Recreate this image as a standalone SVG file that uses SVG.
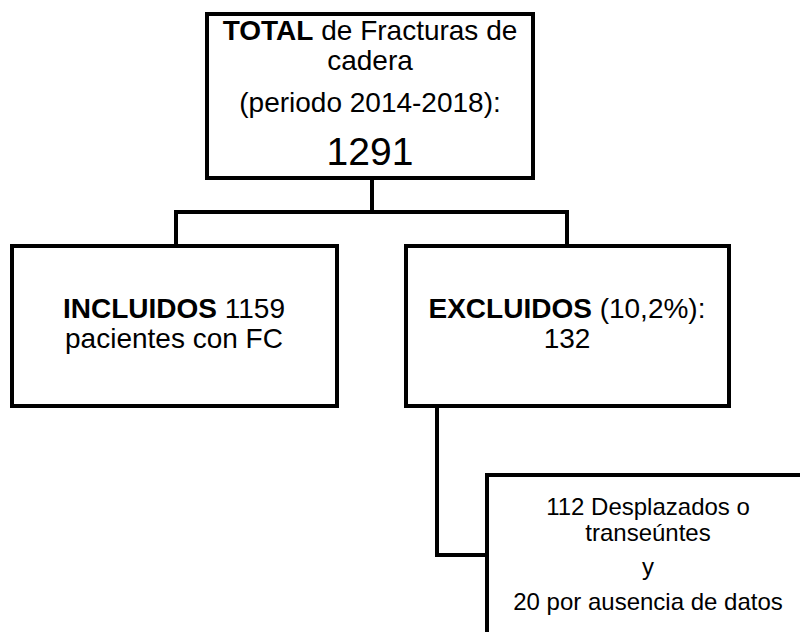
<svg xmlns="http://www.w3.org/2000/svg" width="800" height="632" viewBox="0 0 800 632">
<style>
.box{fill:#fff;stroke:#000;stroke-width:4}
.ln{fill:none;stroke:#000;stroke-width:4}
text{font-family:"Liberation Sans",Arial,sans-serif;fill:#000;text-anchor:middle}
.b{font-weight:bold}
</style>
<rect width="800" height="632" fill="#fff"/>
<g id="connectors">
<path class="ln" d="M372 178 V212 M176 212 H567 M176 210 V247 M567 210 V247"/>
<path class="ln" d="M437 405 V555 H488"/>
</g>
<g id="total">
<rect class="box" x="207" y="14" width="326" height="164"/>
<text x="370" y="40" font-size="28"><tspan class="b">TOTAL</tspan> de Fracturas de</text>
<text x="370" y="70" font-size="28">cadera</text>
<text x="370" y="112" font-size="28">(periodo 2014-2018):</text>
<text x="370" y="165" font-size="39">1291</text>
</g>
<g id="incluidos">
<rect class="box" x="12" y="246" width="325" height="160"/>
<text x="174" y="318" font-size="28"><tspan class="b">INCLUIDOS</tspan> 1159</text>
<text x="174" y="348" font-size="28">pacientes con FC</text>
</g>
<g id="excluidos">
<rect class="box" x="406" y="246" width="323" height="160"/>
<text x="567" y="318" font-size="28"><tspan class="b">EXCLUIDOS</tspan> (10,2%):</text>
<text x="567" y="348" font-size="28">132</text>
</g>
<g id="detalle">
<rect class="box" x="487" y="475" width="330" height="180"/>
<text x="648" y="515" font-size="24">112 Desplazados o</text>
<text x="648" y="541" font-size="24">transeúntes</text>
<text x="648" y="575" font-size="24">y</text>
<text x="648" y="610" font-size="24">20 por ausencia de datos</text>
</g>
</svg>
